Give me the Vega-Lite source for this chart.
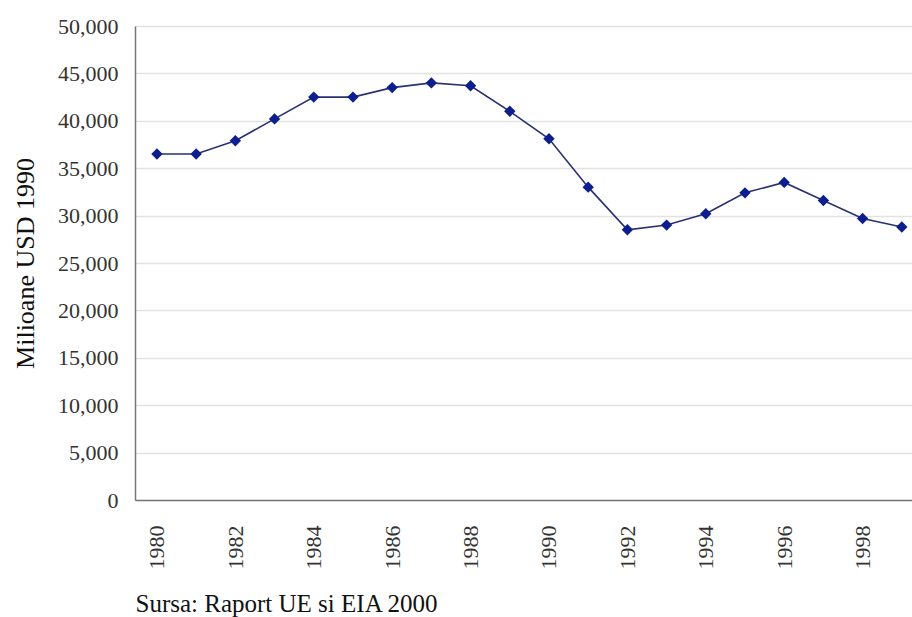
{
  "$schema": "https://vega.github.io/schema/vega-lite/v6.json",
  "autosize": "none",
  "width": 777,
  "height": 474,
  "padding": {"left": 135, "top": 26, "right": 0, "bottom": 117},
  "background": "white",
  "config": {
    "view": {"stroke": null},
    "font": "Liberation Serif"
  },
  "data": {
    "values": [
      {"an": 1980, "valoare": 36500},
      {"an": 1981, "valoare": 36500},
      {"an": 1982, "valoare": 37900},
      {"an": 1983, "valoare": 40200},
      {"an": 1984, "valoare": 42500},
      {"an": 1985, "valoare": 42500},
      {"an": 1986, "valoare": 43500},
      {"an": 1987, "valoare": 44000},
      {"an": 1988, "valoare": 43700},
      {"an": 1989, "valoare": 41000},
      {"an": 1990, "valoare": 38100},
      {"an": 1991, "valoare": 33000},
      {"an": 1992, "valoare": 28500},
      {"an": 1993, "valoare": 29000},
      {"an": 1994, "valoare": 30200},
      {"an": 1995, "valoare": 32400},
      {"an": 1996, "valoare": 33500},
      {"an": 1997, "valoare": 31600},
      {"an": 1998, "valoare": 29700},
      {"an": 1999, "valoare": 28800}
    ]
  },
  "encoding": {
    "x": {
      "field": "an",
      "type": "quantitative",
      "scale": {"domain": [1979.44, 1999.26], "nice": false, "zero": false},
      "axis": {
        "values": [1980, 1982, 1984, 1986, 1988, 1990, 1992, 1994, 1996, 1998],
        "format": "d",
        "labelAngle": 270,
        "labelFontSize": 22,
        "labelColor": "#333",
        "labelPadding": 25,
        "ticks": false,
        "grid": false,
        "domainColor": "#777",
        "domainWidth": 1.5,
        "title": "Sursa: Raport UE si EIA 2000",
        "titleFont": "Liberation Serif",
        "titleFontSize": 25,
        "titleFontWeight": "normal",
        "titleColor": "#111",
        "titleAnchor": "start",
        "titleAlign": "left",
        "titleX": 0,
        "titleY": 111,
        "titleBaseline": "alphabetic"
      }
    },
    "y": {
      "field": "valoare",
      "type": "quantitative",
      "scale": {"domain": [0, 50000], "nice": false},
      "axis": {
        "values": [0, 5000, 10000, 15000, 20000, 25000, 30000, 35000, 40000, 45000, 50000],
        "format": ",d",
        "labelFontSize": 22,
        "labelColor": "#333",
        "labelPadding": 17,
        "ticks": false,
        "gridColor": "#e2e2e2",
        "gridWidth": 1.5,
        "domainColor": "#777",
        "domainWidth": 1.5,
        "title": "Milioane USD 1990",
        "titleFont": "Liberation Serif",
        "titleFontSize": 26,
        "titleFontWeight": "normal",
        "titleColor": "#111",
        "titleX": -110,
        "titleY": 237,
        "titleAngle": 270,
        "titleAlign": "center",
        "titleBaseline": "middle"
      }
    }
  },
  "layer": [
    {
      "mark": {"type": "line", "color": "#2a3170", "strokeWidth": 1.6}
    },
    {
      "mark": {"type": "point", "shape": "diamond", "filled": true, "size": 130, "color": "#0d1f8f", "opacity": 1}
    }
  ]
}
